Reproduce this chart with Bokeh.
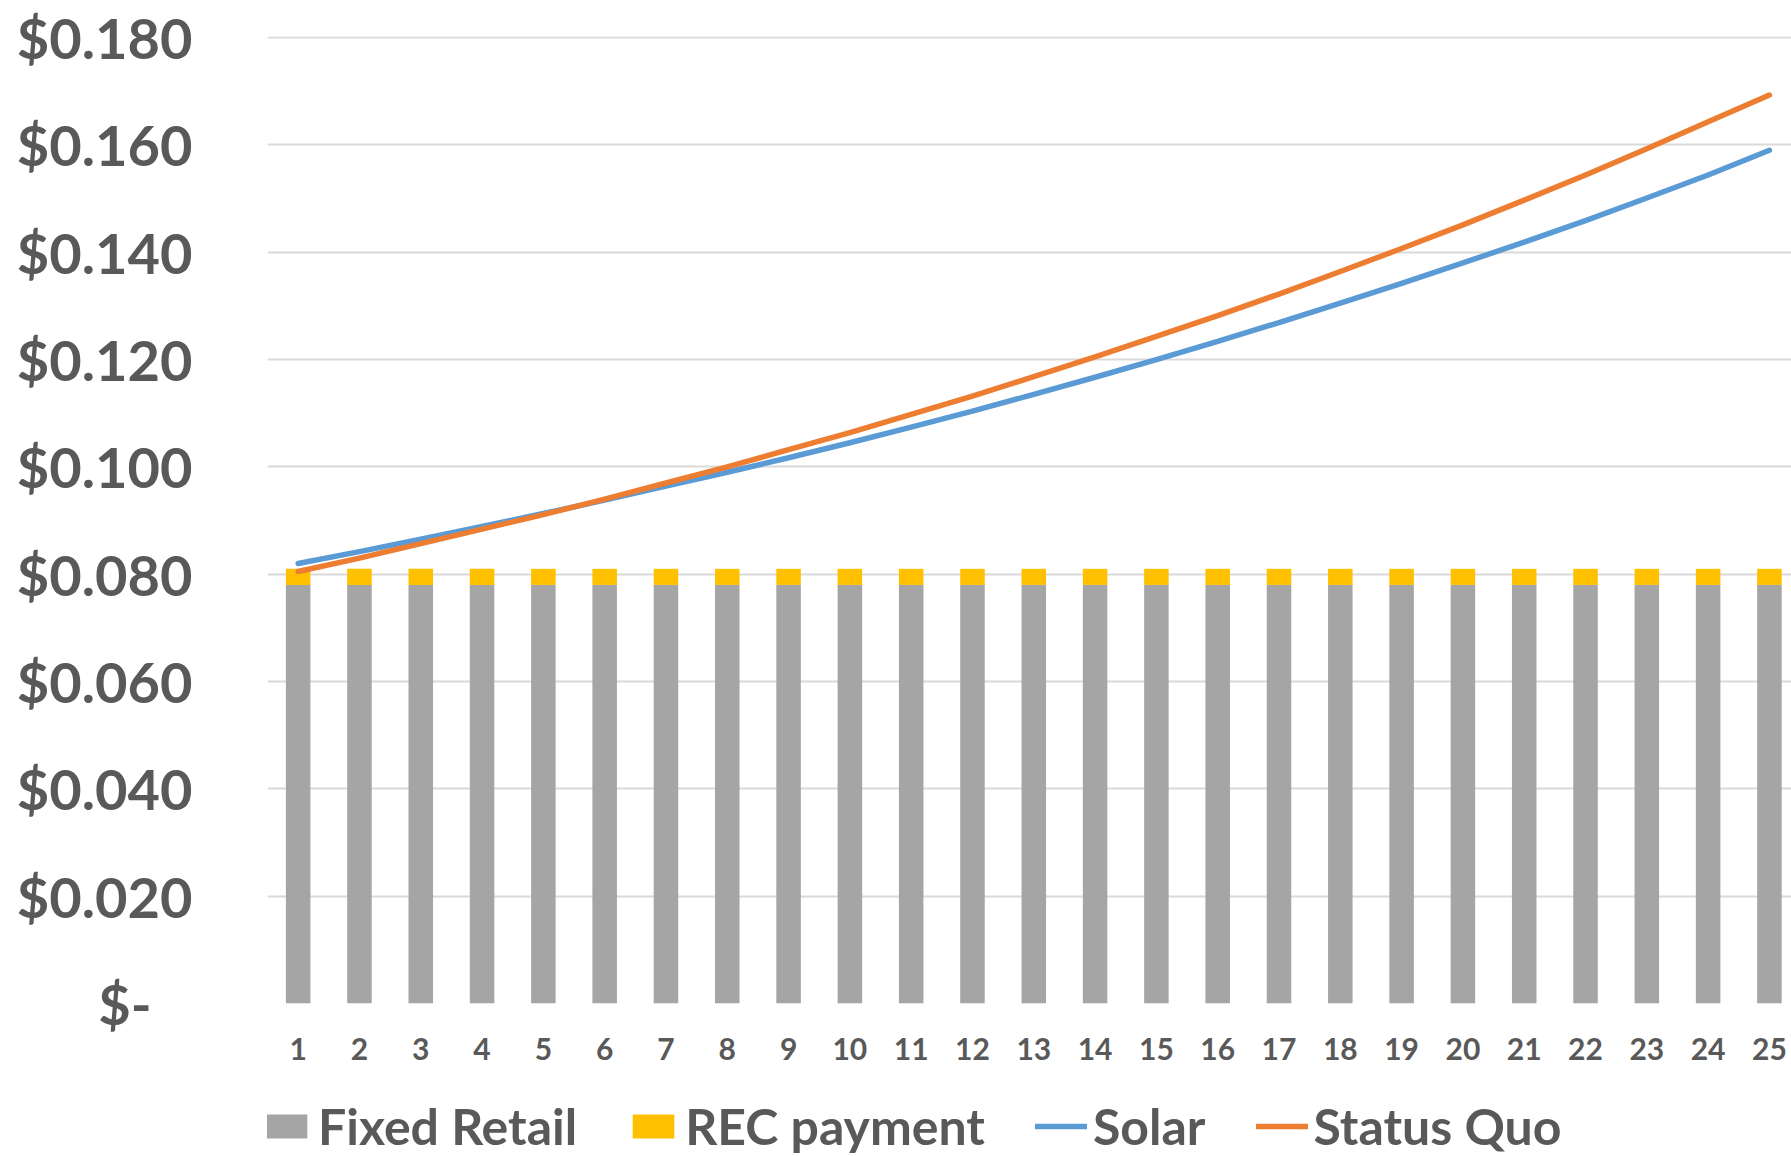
from bokeh.plotting import figure
from bokeh.models import (ColumnDataSource, Range1d, FixedTicker, Legend, LegendItem)
from bokeh.layouts import column
from bokeh.embed import file_html
from bokeh.resources import INLINE

# Contract years
years = list(range(1, 26))

# Stacked bar components ($/kWh)
fixed_retail = [0.078] * 25
rec_payment = [0.003] * 25

# Cost per kWh under each scenario
solar = [0.0820, 0.0842, 0.0865, 0.0889, 0.0913, 0.0938, 0.0964, 0.0990, 0.1017,
         0.1045, 0.1074, 0.1104, 0.1135, 0.1167, 0.1200, 0.1234, 0.1269, 0.1305,
         0.1342, 0.1380, 0.1419, 0.1459, 0.1501, 0.1544, 0.1590]
status_quo = [0.0805, 0.0830, 0.0857, 0.0884, 0.0911, 0.0940, 0.0970, 0.1000,
              0.1032, 0.1064, 0.1098, 0.1132, 0.1168, 0.1205, 0.1243, 0.1282,
              0.1322, 0.1364, 0.1407, 0.1451, 0.1497, 0.1544, 0.1593, 0.1643, 0.1693]

# Value axis ticks and their labels
y_ticks = [0, 0.02, 0.04, 0.06, 0.08, 0.1, 0.12, 0.14, 0.16, 0.18]
y_labels = ["$-\u00a0\u00a0\u00a0", "$0.020", "$0.040", "$0.060", "$0.080",
            "$0.100", "$0.120", "$0.140", "$0.160", "$0.180"]

TEXT = "#595959"
FONT = "Lato"
GRAY, GOLD, BLUE, ORANGE = "#A5A5A5", "#FFC000", "#5B9BD5", "#ED7D31"

src = ColumnDataSource(dict(
    year=years,
    fixed=fixed_retail,
    total=[a + b for a, b in zip(fixed_retail, rec_payment)],
    solar=solar,
    sq=status_quo,
))


def draw_series(fig):
    """Stacked bars plus the two cost lines; returns the renderers."""
    rf = fig.vbar(x="year", bottom=0, top="fixed", width=0.4, source=src,
                  fill_color=GRAY, line_color=None)
    rr = fig.vbar(x="year", bottom="fixed", top="total", width=0.4, source=src,
                  fill_color=GOLD, line_color=None)
    ls = fig.line(x="year", y="solar", source=src, line_color=BLUE,
                  line_width=5.5, line_cap="round", line_join="round")
    lq = fig.line(x="year", y="sq", source=src, line_color=ORANGE,
                  line_width=5.5, line_cap="round", line_join="round")
    return rf, rr, ls, lq


p = figure(frame_width=1524, frame_height=967, output_backend="svg",
           toolbar_location=None,
           x_range=Range1d(0.5, 25.36), y_range=Range1d(0, 0.1802),
           min_border_left=267, min_border_right=0, min_border_top=36,
           min_border_bottom=70)
p.outline_line_color = None
p.background_fill_color = "white"
p.border_fill_color = "white"

draw_series(p)

# grid
p.xgrid.grid_line_color = None
p.ygrid.grid_line_color = "#D9D9D9"
p.ygrid.grid_line_width = 2
p.ygrid.ticker = FixedTicker(ticks=y_ticks)

# y axis
p.yaxis.ticker = FixedTicker(ticks=y_ticks)
p.yaxis.major_label_overrides = dict(zip(y_ticks, y_labels))
p.yaxis.axis_line_color = None
p.yaxis.major_tick_line_color = None
p.yaxis.minor_tick_line_color = None
p.yaxis.major_tick_out = 0
p.yaxis.major_label_standoff = 75
p.yaxis.major_label_text_font = FONT
p.yaxis.major_label_text_font_style = "bold"
p.yaxis.major_label_text_font_size = "56px"
p.yaxis.major_label_text_color = TEXT

# x axis
p.xaxis.ticker = FixedTicker(ticks=years)
p.xaxis.axis_line_color = None
p.xaxis.major_tick_line_color = None
p.xaxis.minor_tick_line_color = None
p.xaxis.major_tick_out = 0
p.xaxis.major_label_standoff = 34
p.xaxis.major_label_text_font = FONT
p.xaxis.major_label_text_font_style = "bold"
p.xaxis.major_label_text_font_size = "30px"
p.xaxis.major_label_text_color = TEXT

# Legend strip underneath the chart; its series sit outside the visible range
leg = figure(width=1791, height=1156 - (36 + 967 + 70), output_backend="svg",
             toolbar_location=None, x_range=Range1d(0.5, 25.36),
             y_range=Range1d(10, 11), min_border=0)
leg.outline_line_color = None
leg.axis.visible = False
leg.grid.grid_line_color = None
rf, rr, ls, lq = draw_series(leg)

legend = Legend(items=[
    LegendItem(label="Fixed Retail", renderers=[rf]),
    LegendItem(label="REC payment", renderers=[rr]),
    LegendItem(label="Solar", renderers=[ls]),
    LegendItem(label="Status Quo", renderers=[lq]),
], orientation="horizontal", location=(-7, 0))
legend.padding = 0
legend.margin = 0
legend.spacing = 50
legend.glyph_width = 52
legend.glyph_height = 30
legend.label_standoff = 6
legend.label_text_font = FONT
legend.label_text_font_style = "bold"
legend.label_text_font_size = "50px"
legend.label_text_color = TEXT
legend.border_line_color = None
legend.background_fill_alpha = 0
leg.add_layout(legend, "center")

open("out.html", "w").write(file_html(column(p, leg, spacing=0), INLINE))
